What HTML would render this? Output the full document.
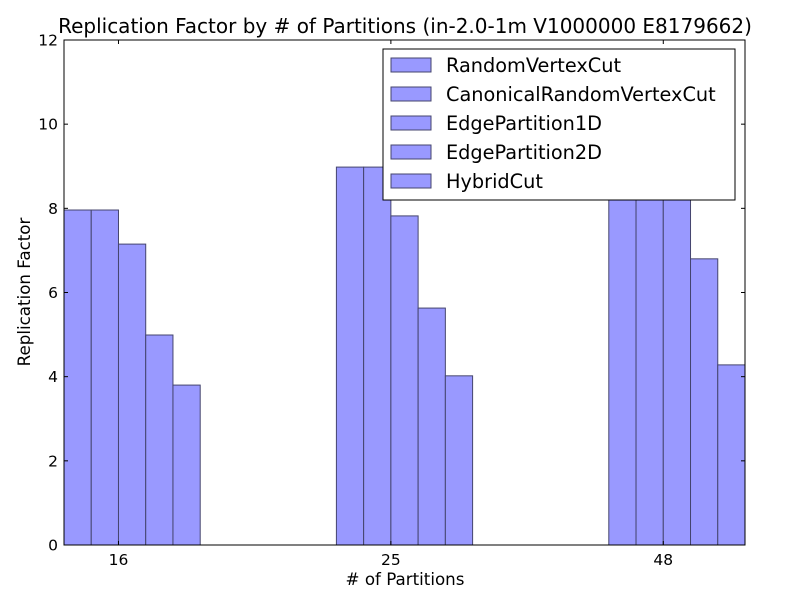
<!DOCTYPE html>
<html><head><meta charset="utf-8"><style>
body{margin:0;background:#fff}
svg{font-family:"DejaVu Sans","Liberation Sans",sans-serif}
</style></head><body>
<svg id="chart" width="800" height="600">
<rect x="0" y="0" width="800" height="600" fill="#fff"/>
<text x="405" y="33" font-size="20" text-anchor="middle">Replication Factor by # of Partitions (in-2.0-1m V1000000 E8179662)</text>
<g id="bars"></g>
<g id="axes"></g>
<text x="405" y="585" font-size="16.7" text-anchor="middle"># of Partitions</text>
<text transform="translate(30,292) rotate(-90)" font-size="16.7" text-anchor="middle">Replication Factor</text>
<g id="legend"></g>
</svg>
<script>
const categories = ["16","25","48"];
const seriesNames = ["RandomVertexCut","CanonicalRandomVertexCut","EdgePartition1D","EdgePartition2D","HybridCut"];
const randomVertexCut = [7.96, 8.98, 9.0];
const canonicalRandomVertexCut = [7.96, 8.98, 9.0];
const edgePartition1D = [7.15, 7.82, 8.5];
const edgePartition2D = [4.99, 5.63, 6.80];
const hybridCut = [3.80, 4.02, 4.28];
const yTicks = [0,2,4,6,8,10,12];

const series = [randomVertexCut, canonicalRandomVertexCut, edgePartition1D, edgePartition2D, hybridCut];
const NS = "http://www.w3.org/2000/svg";
const L = 64, R = 745, T = 40, B = 545;
const xScale = v => L + (v + 0.2) / 2.5 * (R - L);
const yScale = v => B - v / 12 * (B - T);
function mk(tag, attrs, parent){const e=document.createElementNS(NS,tag);for(const k in attrs)e.setAttribute(k,attrs[k]);parent.appendChild(e);return e;}
const bars = document.getElementById('bars');
series.forEach((s, k) => {
  s.forEach((v, i) => {
    const x0 = xScale(i - 0.2 + k * 0.1), x1 = xScale(i - 0.1 + k * 0.1);
    const r = mk('rect', {x:x0, y:yScale(v), width:x1-x0, height:yScale(0)-yScale(v), fill:'#9999ff', stroke:'#45456e', 'stroke-width':1}, bars);
    
    
  });
});
const axes = document.getElementById('axes');
const frame = mk('rect', {x:L, y:T, width:R-L, height:B-T, fill:'none', stroke:'#000', 'stroke-width':1}, axes);


yTicks.forEach(t => {
  const y = yScale(t);
  mk('line', {x1:L, x2:L+4, y1:y, y2:y, stroke:'#000'}, axes);
  mk('line', {x1:R, x2:R-4, y1:y, y2:y, stroke:'#000'}, axes);
  const tx = mk('text', {x:L-6, y:y+5.5, 'font-size':15.5, 'text-anchor':'end'}, axes);
  tx.textContent = t;
  
  
});
categories.forEach((c, i) => {
  const x = xScale(i);
  mk('line', {x1:x, x2:x, y1:B, y2:B-4, stroke:'#000'}, axes);
  mk('line', {x1:x, x2:x, y1:T, y2:T+4, stroke:'#000'}, axes);
  const tx = mk('text', {x:x, y:B+20, 'font-size':15.5, 'text-anchor':'middle'}, axes);
  tx.textContent = c;
  
  
});
const lg = document.getElementById('legend');


mk('rect', {x:383, y:49, width:352, height:151, fill:'#fff', stroke:'#000', 'stroke-width':1}, lg);
seriesNames.forEach((n, k) => {
  const y = 65 + k * 29;
  const sw = mk('rect', {x:391, y:y-7, width:40, height:14, fill:'#9999ff', stroke:'#45456e', 'stroke-width':1}, lg);
  
  
  const tx = mk('text', {x:446, y:y+7, 'font-size':19.3}, lg);
  tx.textContent = n;
  
  
});
</script>
</body></html>
